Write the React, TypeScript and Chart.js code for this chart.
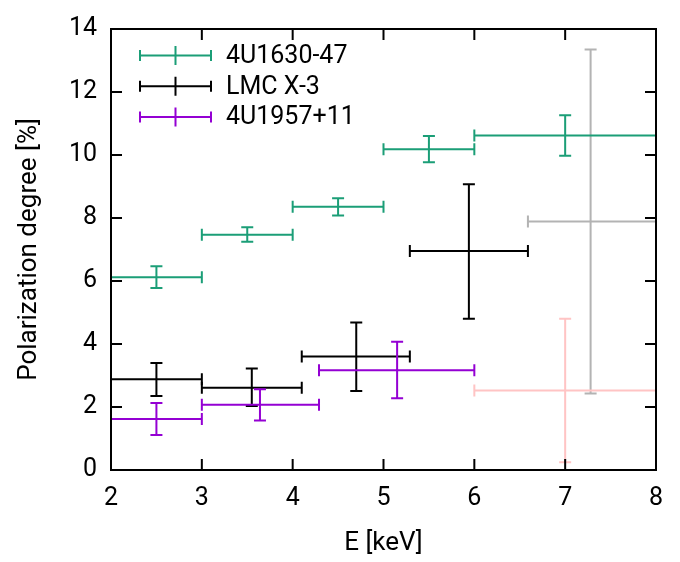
import React, { useEffect, useRef } from "react";
import { Chart, registerables } from "chart.js";

Chart.register(...registerables);

// 4U1630-47
const g_x = [2.5, 3.5, 4.5, 5.5, 7.0];
const g_xlo = [2, 3, 4, 5, 6];
const g_xhi = [3, 4, 5, 6, 8];
const g_y = [6.12, 7.47, 8.36, 10.18, 10.62];
const g_ylo = [5.78, 7.25, 8.08, 9.77, 9.98];
const g_yhi = [6.47, 7.71, 8.63, 10.6, 11.26];

// LMC X-3
const l_x = [2.5, 3.55, 4.7, 5.94];
const l_xlo = [2, 3, 4.1, 5.29];
const l_xhi = [3, 4.1, 5.29, 6.59];
const l_y = [2.88, 2.61, 3.6, 6.95];
const l_ylo = [2.35, 2.03, 2.51, 4.8];
const l_yhi = [3.4, 3.22, 4.68, 9.07];

// LMC X-3 (faint point)
const lf_x = [7.28];
const lf_xlo = [6.59];
const lf_xhi = [8];
const lf_y = [7.89];
const lf_ylo = [2.43];
const lf_yhi = [13.35];

// 4U1957+11
const p_x = [2.5, 3.64, 5.15];
const p_xlo = [2, 3, 4.29];
const p_xhi = [3, 4.29, 6];
const p_y = [1.62, 2.07, 3.17];
const p_ylo = [1.11, 1.57, 2.28];
const p_yhi = [2.13, 2.56, 4.07];

// faint point (pink)
const pf_x = [7.0];
const pf_xlo = [6.0];
const pf_xhi = [8];
const pf_y = [2.52];
const pf_ylo = [0.25];
const pf_yhi = [4.8];

const xTicks = [2, 3, 4, 5, 6, 7, 8];
const yTicks = [0, 2, 4, 6, 8, 10, 12, 14];

function mk(label, color, xs, xlo, xhi, ys, ylo, yhi, legend) {
  return {
    label,
    data: xs.map((x, i) => ({ x, y: ys[i], xMin: xlo[i], xMax: xhi[i], yMin: ylo[i], yMax: yhi[i] })),
    borderColor: color,
    backgroundColor: color,
    pointRadius: 0,
    showLine: false,
    inLegend: legend,
  };
}

const errorPlugin = {
  id: "errorbars",
  afterDatasetsDraw(chart) {
    const { ctx, scales } = chart;
    const xs = scales.x, ys = scales.y;
    const cap = 6;
    ctx.save();
    chart.data.datasets.forEach((ds: any) => {
      ctx.strokeStyle = ds.borderColor;
      ctx.lineWidth = 2;
      ds.data.forEach((d: any) => {
        const px = xs.getPixelForValue(d.x);
        const py = ys.getPixelForValue(d.y);
        const x0 = xs.getPixelForValue(d.xMin);
        const x1 = xs.getPixelForValue(d.xMax);
        const y0 = ys.getPixelForValue(d.yMin);
        const y1 = ys.getPixelForValue(d.yMax);
        ctx.beginPath();
        ctx.moveTo(x0, py); ctx.lineTo(x1, py);
        ctx.moveTo(x0, py - cap); ctx.lineTo(x0, py + cap);
        ctx.moveTo(x1, py - cap); ctx.lineTo(x1, py + cap);
        ctx.moveTo(px, y0); ctx.lineTo(px, y1);
        ctx.moveTo(px - cap, y0); ctx.lineTo(px + cap, y0);
        ctx.moveTo(px - cap, y1); ctx.lineTo(px + cap, y1);
        ctx.stroke();
      });
    });
    ctx.restore();
  },
  afterDraw(chart) {
    const { ctx, chartArea: a, scales } = chart;
    ctx.save();
    ctx.strokeStyle = "#000";
    ctx.lineWidth = 2;
    ctx.strokeRect(a.left, a.top, a.right - a.left, a.bottom - a.top);
    const tl = 11;
    ctx.beginPath();
    xTicks.forEach((v) => {
      if (v === xTicks[0] || v === xTicks[xTicks.length - 1]) return;
      const p = scales.x.getPixelForValue(v);
      ctx.moveTo(p, a.bottom); ctx.lineTo(p, a.bottom - tl);
      ctx.moveTo(p, a.top); ctx.lineTo(p, a.top + tl);
    });
    yTicks.forEach((v) => {
      if (v === yTicks[0] || v === yTicks[yTicks.length - 1]) return;
      const p = scales.y.getPixelForValue(v);
      ctx.moveTo(a.left, p); ctx.lineTo(a.left + tl, p);
      ctx.moveTo(a.right, p); ctx.lineTo(a.right - tl, p);
    });
    ctx.stroke();

    // legend
    const items = chart.data.datasets.filter((d: any) => d.inLegend);
    const lx0 = a.left + 29, lx1 = a.left + 100, lxm = (lx0 + lx1) / 2;
    const rowY = [a.top + 26.5, a.top + 57.3, a.top + 88];
    ctx.font = "25px Roboto";
    ctx.textBaseline = "middle";
    ctx.textAlign = "left";
    items.forEach((d: any, i) => {
      const y = rowY[i];
      ctx.strokeStyle = d.borderColor;
      ctx.lineWidth = 2;
      ctx.beginPath();
      ctx.moveTo(lx0, y); ctx.lineTo(lx1, y);
      ctx.moveTo(lx0, y - 5.5); ctx.lineTo(lx0, y + 5.5);
      ctx.moveTo(lx1, y - 5.5); ctx.lineTo(lx1, y + 5.5);
      ctx.moveTo(lxm, y - 9.5); ctx.lineTo(lxm, y + 9.5);
      ctx.stroke();
      ctx.fillStyle = "#000";
      ctx.fillText(d.label, a.left + 115, y + 1);
    });
    ctx.restore();
  },
};

export default function App() {
  const ref = useRef<HTMLCanvasElement>(null);
  useEffect(() => {
    Chart.defaults.font.family = "Roboto";
    const chart = new Chart(ref.current!, {
      type: "scatter",
      data: {
        datasets: [
          mk("LMC X-3 faint", "#b3b3b3", lf_x, lf_xlo, lf_xhi, lf_y, lf_ylo, lf_yhi, false),
          mk("4U1957+11 faint", "#ffc4c4", pf_x, pf_xlo, pf_xhi, pf_y, pf_ylo, pf_yhi, false),
          mk("4U1630-47", "#1b9e77", g_x, g_xlo, g_xhi, g_y, g_ylo, g_yhi, true),
          mk("LMC X-3", "#000000", l_x, l_xlo, l_xhi, l_y, l_ylo, l_yhi, true),
          mk("4U1957+11", "#9400d3", p_x, p_xlo, p_xhi, p_y, p_ylo, p_yhi, true),
        ] as any,
      },
      options: {
        animation: false,
        responsive: false,
        devicePixelRatio: 1,
        layout: { padding: { left: 0, top: 16, right: 24, bottom: 0 } },
        plugins: { legend: { display: false }, tooltip: { enabled: false } },
        scales: {
          x: {
            type: "linear",
            min: 2,
            max: 8,
            afterFit: (s: any) => { s.height = 92; },
            afterBuildTicks: (s: any) => { s.ticks = xTicks.map((v) => ({ value: v })); },
            grid: { display: false, drawTicks: false },
            border: { display: false },
            ticks: { color: "#000", font: { size: 25 }, padding: 14, maxRotation: 0 },
            title: { display: true, text: "E [keV]", color: "#000", font: { size: 26 }, padding: { top: 0, bottom: 3 } },
          },
          y: {
            type: "linear",
            min: 0,
            max: 14,
            afterFit: (s: any) => { s.width = 111; },
            afterBuildTicks: (s: any) => { s.ticks = yTicks.map((v) => ({ value: v })); },
            grid: { display: false, drawTicks: false },
            border: { display: false },
            ticks: { color: "#000", font: { size: 25 }, padding: 14 },
            title: { display: true, text: "Polarization degree [%]", color: "#000", font: { size: 26 }, padding: { top: 14, bottom: 0 } },
          },
        },
      },
      plugins: [errorPlugin],
    });
    return () => chart.destroy();
  }, []);
  return (
    <div style={{ position: "fixed", left: 0, top: 0, width: 680, height: 562, background: "#fff" }}>
      <canvas ref={ref} width={680} height={562} />
    </div>
  );
}
